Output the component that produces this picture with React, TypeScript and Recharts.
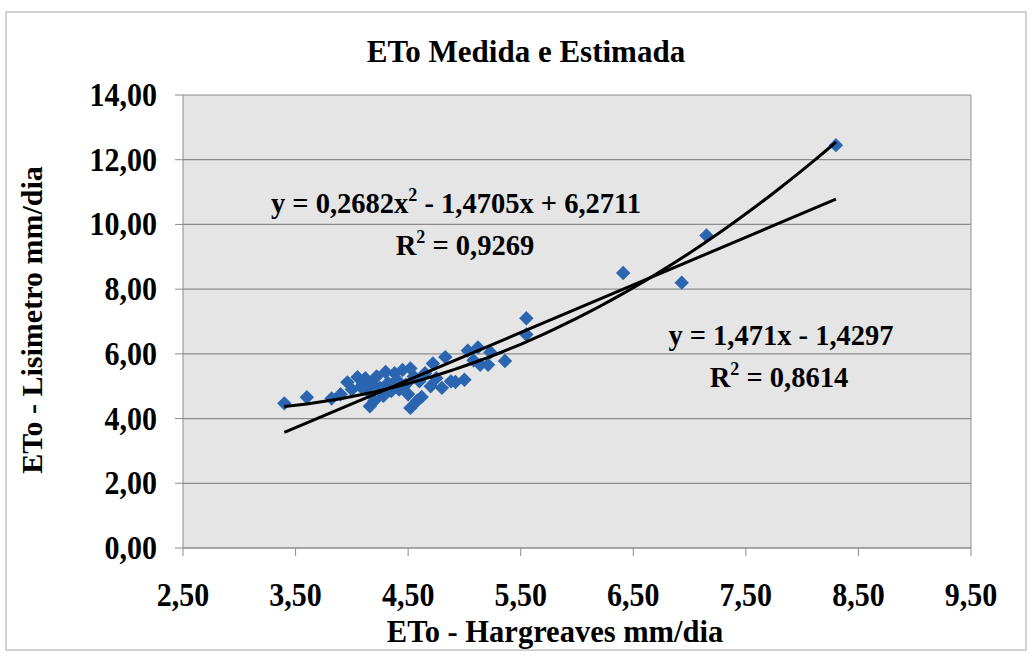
import React from 'react';
import { ScatterChart, Scatter, XAxis, YAxis, CartesianGrid, ReferenceLine } from 'recharts';

const hargreaves = [
  3.40, 3.60, 3.82, 3.90, 3.96, 4.00, 4.05, 4.08, 4.10, 4.12,
  4.15, 4.16, 4.18, 4.20, 4.22, 4.25, 4.28, 4.30, 4.32, 4.35,
  4.38, 4.40, 4.42, 4.45, 4.48, 4.50, 4.52, 4.52, 4.55, 4.58,
  4.60, 4.62, 4.65, 4.70, 4.72, 4.75, 4.80, 4.83, 4.88, 4.92,
  5.00, 5.03, 5.08, 5.12, 5.14, 5.21, 5.23, 5.36, 5.55, 5.55,
  6.41, 6.93, 7.15, 8.30,
];
const lisimetro = [
  4.47, 4.66, 4.62, 4.75, 5.12, 4.90, 5.28, 4.98, 5.10, 5.25,
  4.82, 4.38, 5.05, 4.55, 5.30, 4.95, 4.70, 5.44, 5.10, 4.85,
  5.40, 5.20, 4.90, 5.50, 5.05, 4.75, 4.33, 5.55, 5.30, 4.55,
  5.15, 4.67, 5.40, 5.00, 5.70, 5.25, 4.95, 5.90, 5.15, 5.13,
  5.20, 6.10, 5.80, 6.20, 5.66, 5.66, 6.05, 5.78, 6.60, 7.10,
  8.50, 8.20, 9.66, 12.45,
];

const xTicks = [2.5, 3.5, 4.5, 5.5, 6.5, 7.5, 8.5, 9.5];
const yTicks = [0, 2, 4, 6, 8, 10, 12, 14];

// Trendline coefficients as printed on the chart
const linCoef = { a: 1.471, b: -1.4297 };
const polyCoef = { a: 0.2682, b: -1.4705, c: 6.2711 };

const points = hargreaves.map((x, i) => ({ x, y: lisimetro[i] }));
const xMin = Math.min(...hargreaves);
const xMax = Math.max(...hargreaves);

const linFit = [xMin, xMax].map((x) => ({ x, y: linCoef.a * x + linCoef.b }));
const polyFit: { x: number; y: number }[] = [];
for (let k = 0; k <= 49; k++) {
  const x = xMin + ((xMax - xMin) * k) / 49;
  polyFit.push({ x, y: polyCoef.a * x * x + polyCoef.b * x + polyCoef.c });
}

const fmt = (v: number) => v.toFixed(2).replace('.', ',');
const FONT = '"Liberation Serif", "Times New Roman", serif';

const Diamond = (props: any) => {
  const { cx, cy } = props;
  if (cx == null || cy == null) return null;
  const r = 7.2;
  return (
    <polygon
      points={`${cx},${cy - r} ${cx + r},${cy} ${cx},${cy + r} ${cx - r},${cy}`}
      fill="#2b65b0"
    />
  );
};

const NoShape = () => null;

const StretchText = ({ x, y, anchor, size, children }: any) => (
  <text
    transform={`translate(${x} ${y}) scale(1 1.12)`}
    x={0}
    y={0}
    textAnchor={anchor}
    fontFamily={FONT}
    fontWeight={700}
    fontSize={size}
    fill="#000"
  >
    {children}
  </text>
);

const YTick = (props: any) => {
  const { x, y, payload } = props;
  return (
    <StretchText x={x} y={y + 11} anchor="end" size={30}>
      {fmt(payload.value)}
    </StretchText>
  );
};

const XTick = (props: any) => {
  const { x, y, payload } = props;
  return (
    <StretchText x={x} y={y + 23} anchor="middle" size={30}>
      {fmt(payload.value)}
    </StretchText>
  );
};

export default function App() {
  return (
    <div style={{ position: 'absolute', left: 0, top: 0, width: 1030, height: 664, background: '#fff' }}>
      <ScatterChart
        width={1030}
        height={664}
        margin={{ top: 95, right: 59, left: 83, bottom: 56 }}
      >
        <CartesianGrid
          vertical={false}
          stroke="#8c8c8c"
          strokeWidth={1.2}
          fill="#e5e5e5"
          fillOpacity={1}
        />
        <XAxis
          type="number"
          dataKey="x"
          domain={[2.5, 9.5]}
          ticks={xTicks}
          tickFormatter={fmt}
          allowDataOverflow
          height={60}
          tickSize={8}
          tickMargin={27}
          stroke="#8c8c8c"
          tick={XTick}
        />
        <YAxis
          type="number"
          dataKey="y"
          domain={[0, 14]}
          ticks={yTicks}
          tickFormatter={fmt}
          allowDataOverflow
          width={100}
          tickSize={8}
          tickMargin={18}
          stroke="#8c8c8c"
          tick={YTick}
        />
        <ReferenceLine x={9.5} stroke="#a0a0a0" strokeWidth={1.2} />
        <Scatter data={points} shape={Diamond} isAnimationActive={false} />
        <Scatter
          data={polyFit}
          line={{ stroke: '#000', strokeWidth: 3 }}
          shape={NoShape}
          isAnimationActive={false}
        />
        <Scatter
          data={linFit}
          line={{ stroke: '#000', strokeWidth: 3 }}
          shape={NoShape}
          isAnimationActive={false}
        />
      </ScatterChart>
      <svg
        width={1030}
        height={664}
        style={{ position: 'absolute', left: 0, top: 0, pointerEvents: 'none' }}
      >
        <rect x={6} y={12} width={1020} height={638} fill="none" stroke="#c4c4c4" strokeWidth={1.5} />
        <g fontFamily={FONT} fontWeight={700} fill="#000">
          <text x={526} y={62} fontSize={31} textAnchor="middle">ETo Medida e Estimada</text>
          <text x={555} y={642} fontSize={30.5} textAnchor="middle">ETo - Hargreaves mm/dia</text>
          <text x={42} y={320} fontSize={30} textAnchor="middle" transform="rotate(-90 42 320)">
            ETo - Lisimetro mm/dia
          </text>
          <text x={456} y={213} fontSize={28.5} textAnchor="middle">
            y = 0,2682x<tspan fontSize={18} dy={-12}>2</tspan>
            <tspan dy={12}> - 1,4705x + 6,2711</tspan>
          </text>
          <text x={465} y={255} fontSize={28.5} textAnchor="middle">
            R<tspan fontSize={18} dy={-12}>2</tspan>
            <tspan dy={12}> = 0,9269</tspan>
          </text>
          <text x={781} y={345} fontSize={28.5} textAnchor="middle">y = 1,471x - 1,4297</text>
          <text x={779} y={387} fontSize={28.5} textAnchor="middle">
            R<tspan fontSize={18} dy={-12}>2</tspan>
            <tspan dy={12}> = 0,8614</tspan>
          </text>
        </g>
      </svg>
    </div>
  );
}
